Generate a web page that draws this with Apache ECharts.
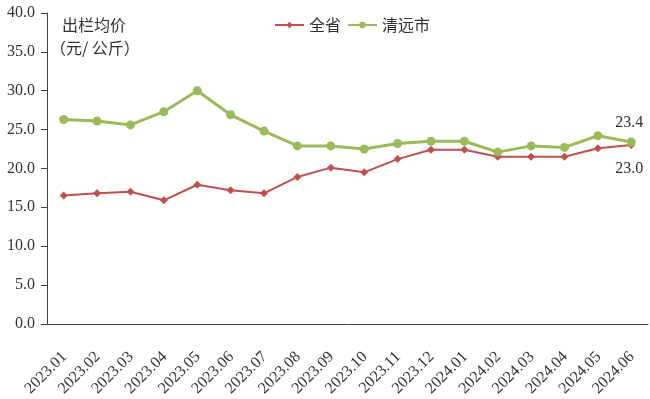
<!DOCTYPE html>
<html>
<head>
<meta charset="utf-8">
<script src="https://cdn.jsdelivr.net/npm/echarts@6/dist/echarts.min.js"></script>
<style>
  html, body { margin: 0; padding: 0; background: #fff; }
  #chart { width: 650px; height: 399px; }
</style>
</head>
<body>
<div id="chart"></div>
<script>
const months = ['2023.01', '2023.02', '2023.03', '2023.04', '2023.05', '2023.06', '2023.07', '2023.08', '2023.09',
  '2023.10', '2023.11', '2023.12', '2024.01', '2024.02', '2024.03', '2024.04', '2024.05', '2024.06']
const province = [16.5, 16.8, 17.0, 15.9, 17.9, 17.2, 16.8, 18.9, 20.1, 19.5, 21.2, 22.4, 22.4, 21.5, 21.5, 21.5, 22.6, 23.0]
const qingyuan = [26.3, 26.1, 25.6, 27.3, 30.0, 26.9, 24.8, 22.9, 22.9, 22.5, 23.2, 23.5, 23.5, 22.1, 22.9, 22.7, 24.2, 23.4]

const serif = 'Liberation Serif'
const cjk = 'Noto Sans CJK SC'
const lastIdx = months.length - 1

const chart = echarts.init(document.getElementById('chart'))

// only the last point gets a value label
const lastLabel = (p) => p.dataIndex === lastIdx ? p.value.toFixed(1) : ''

const titleStyle = {
  fontFamily: cjk,
  fontSize: 16,
  fontWeight: 'normal',
  color: '#333',
  lineHeight: 16
}

chart.setOption({
  animation: false,
  title: [
    { text: '出栏均价', left: 62, top: 17, padding: 0, textStyle: titleStyle },
    { text: '（元/ 公斤）', left: 50, top: 40, padding: 0, textStyle: titleStyle }
  ],
  legend: {
    top: 17,
    left: 274,
    padding: 0,
    itemWidth: 29,
    itemHeight: 8,
    itemGap: 6,
    textStyle: { fontFamily: cjk, fontSize: 16, color: '#333' },
    data: ['全省', '清远市']
  },
  grid: {
    left: 47,
    right: 2,
    top: 13,
    bottom: 74
  },
  xAxis: {
    type: 'category',
    data: months,
    boundaryGap: true,
    axisLine: { lineStyle: { color: '#404040', width: 1 } },
    axisTick: { alignWithLabel: true, length: 5, lineStyle: { color: '#404040' } },
    axisLabel: {
      rotate: 45,
      interval: 0,
      margin: 20,
      align: 'right',
      verticalAlign: 'top',
      padding: [0, 7, 0, 0],
      fontFamily: serif,
      fontSize: 16,
      color: '#333'
    }
  },
  yAxis: {
    type: 'value',
    min: 0,
    max: 40,
    interval: 5,
    splitLine: { show: false },
    axisLine: { show: true, lineStyle: { color: '#404040', width: 1 } },
    axisTick: { show: true, length: 6, lineStyle: { color: '#404040' } },
    axisLabel: {
      margin: 12,
      fontFamily: serif,
      fontSize: 16,
      color: '#333',
      formatter: (v) => v.toFixed(1)
    }
  },
  series: [
    {
      name: '全省',
      type: 'line',
      data: province,
      symbol: 'diamond',
      symbolSize: 8,
      lineStyle: { color: '#C0504D', width: 2 },
      itemStyle: { color: '#C0504D' },
      label: {
        show: true,
        position: 'bottom',
        distance: 12,
        offset: [-2, 0],
        fontFamily: serif,
        fontSize: 16,
        color: '#333',
        formatter: lastLabel
      }
    },
    {
      name: '清远市',
      type: 'line',
      data: qingyuan,
      symbol: 'circle',
      symbolSize: 9,
      lineStyle: { color: '#9BBB59', width: 3 },
      itemStyle: { color: '#9BBB59' },
      label: {
        show: true,
        position: 'top',
        distance: 7,
        offset: [-2, 0],
        fontFamily: serif,
        fontSize: 16,
        color: '#333',
        formatter: lastLabel
      }
    }
  ]
})
</script>
</body>
</html>
